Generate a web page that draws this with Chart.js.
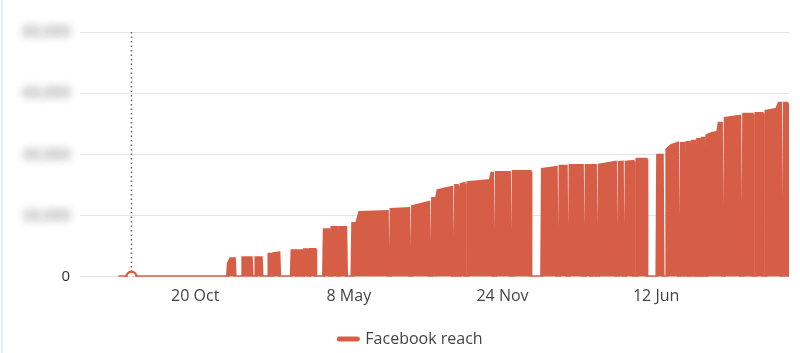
<!DOCTYPE html>
<html><head><meta charset="utf-8">
<script src="https://cdn.jsdelivr.net/npm/chart.js@4.4.1/dist/chart.umd.min.js"></script>
<style>
html,body{margin:0;padding:0;background:#fff;}
#wrap{position:relative;width:800px;height:353px;overflow:hidden;}
#edge{position:absolute;left:1px;top:0;width:2px;height:353px;background:#e3ecf6;}
</style></head><body>
<div id="wrap"><canvas id="c" width="800" height="353"></canvas><div id="edge"></div></div>
<script>
// x = days since 20 Oct 2020
const days = [-100,-83,42,43,46,51,52,61,62,66,67,68,69,73,74,78,79,86,87,95,96,98,99,101,102,109,110,125,126,131,132,134,135,139,140,141,142,146,147,149,150,156,157,167,168,174,175,177,178,184,185,187,188,196,197,204,205,210,214,250,251,254,255,278,279,282,283,304,305,308,309,314,316,334,335,338,339,341,342,345,346,350,351,354,355,384,386,387,388,391,392,409,410,413,414,436,437,451,452,470,471,474,475,483,484,487,488,504,505,508,509,514,515,517,518,521,522,525,526,547,548,551,552,556,557,560,561,570,571,574,575,587,588,601,602,608,609,613,614,620,628,629,632,633,636,637,639,640,643,644,646,647,650,651,653,654,656,657,659,660,662,663,665,666,673,680,682,685,686,689,690,709,710,713,714,725,726,729,730,738,739,742,743,757,760,762,763,766,767,770,771,772,773];
const reach = [0,0,0,4300,5900,5900,0,0,6200,6200,0,0,6200,6200,0,0,6200,6200,0,0,7400,7400,0,0,7600,7800,0,0,8500,8500,0,0,8500,8500,0,0,8800,8800,0,0,8900,8900,0,0,15400,15400,0,0,16100,16100,0,0,16100,16100,0,0,17400,17400,21000,21300,0,0,22000,22300,0,0,23000,24300,0,0,25600,25600,28200,29200,0,0,29800,29800,0,0,30200,30500,0,0,30800,31500,33800,33800,0,0,34100,34100,0,0,34400,34400,0,0,35100,35700,0,0,36100,36100,0,0,36400,36400,0,0,36400,36400,0,0,36400,36400,0,0,36500,37400,0,0,37400,37500,0,0,37500,37700,0,0,38400,38400,0,0,39700,39700,0,0,41600,43000,43600,0,0,43600,43600,0,0,43900,43900,0,0,44300,44300,0,0,44900,44900,0,0,45300,45300,0,0,46200,46900,47200,50200,50200,0,0,51800,52500,0,0,53100,53100,0,0,53400,53400,0,0,54100,54800,56700,56700,0,0,56700,56700,0,0,56700];
const tickDays = [0, 200, 400, 600];
const tickLabels = ['20 Oct', '8 May', '24 Nov', '12 Jun'];
const yTicks = [0, 20000, 40000, 60000, 80000];
const seriesName = 'Facebook reach';
const highlightDay = -83;

const COLOR = '#d75e46';
const FONT = "'Open Sans', 'Noto Sans', sans-serif";

// y tick labels appear blurred in the source: draw them as a soft shadow only
const blurLabels = {
  id: 'blurLabels',
  beforeDraw(chart) {
    const s = chart.scales.y;
    if (!s._blurWrapped) {
      const orig = s.drawLabels;
      s._computeLabelArea = function () { return undefined; };
      s.drawLabels = function (area) {
        const ctx = this.ctx;
        ctx.save();
        ctx.translate(-3000, 0);
        ctx.shadowColor = 'rgba(150,150,150,0.95)';
        ctx.shadowBlur = 9;
        ctx.shadowOffsetX = 3000;
        ctx.shadowOffsetY = 0;
        orig.call(this, area);
        ctx.restore();
      };
      s._blurWrapped = true;
    }
  },
  afterDraw(chart) {
    const s = chart.scales.y, ctx = chart.ctx;
    ctx.save();
    ctx.font = '15px ' + FONT;
    ctx.fillStyle = '#333';
    ctx.textAlign = 'right';
    ctx.textBaseline = 'middle';
    ctx.fillText(String(yTicks[0]), chart.chartArea.left - 10, s.getPixelForValue(yTicks[0]));
    ctx.restore();
  }
};

const legendShift = {
  id: 'legendShift',
  afterLayout(chart) {
    if (chart.legend) { chart.legend.top += 4; chart.legend.bottom += 4; }
  }
};

const hoverLine = {
  id: 'hoverLine',
  beforeDatasetsDraw(chart) {
    const ctx = chart.ctx;
    const x = chart.scales.x.getPixelForValue(highlightDay);
    const y0 = chart.scales.y.getPixelForValue(0);
    ctx.save();
    ctx.strokeStyle = '#666';
    ctx.lineWidth = 1.5;
    ctx.setLineDash([1.5, 3]);
    ctx.beginPath();
    ctx.moveTo(x, chart.chartArea.top);
    ctx.lineTo(x, y0 - 5);
    ctx.stroke();
    ctx.restore();
  }
};

new Chart(document.getElementById('c'), {
  type: 'line',
  data: {
    datasets: [{
      label: seriesName,
      data: days.map((d, i) => ({x: d, y: reach[i]})),
      borderColor: COLOR,
      backgroundColor: COLOR,
      fill: 'origin',
      borderWidth: 3,
      tension: 0,
      pointRadius: c => (c.raw && c.raw.x === highlightDay) ? 5 : 0,
      pointHoverRadius: 0,
      pointBackgroundColor: '#fff',
      pointBorderColor: COLOR,
      pointBorderWidth: 2.5
    }]
  },
  options: {
    responsive: false,
    animation: false,
    events: [],
    layout: {padding: {top: 32, right: 11, left: 33, bottom: 0}},
    plugins: {
      legend: {
        position: 'bottom',
        labels: {
          usePointStyle: true,
          pointStyleWidth: 18,
          color: '#444',
          font: {size: 16, family: FONT},
          padding: 11,
          generateLabels: () => [{
            text: seriesName, fillStyle: COLOR, strokeStyle: COLOR, lineWidth: 5,
            lineCap: 'round', pointStyle: 'line', hidden: false, datasetIndex: 0, fontColor: '#444'
          }]
        }
      },
      tooltip: {enabled: false}
    },
    scales: {
      x: {
        type: 'linear', min: -150, max: 773,
        grid: {display: false, drawTicks: false},
        border: {display: false},
        afterBuildTicks: s => { s.ticks = tickDays.map(v => ({value: v})); },
        ticks: {
          callback: v => { const i = tickDays.indexOf(v); return i >= 0 ? tickLabels[i] : ''; },
          color: '#444', font: {size: 16, family: FONT}, padding: 10, maxRotation: 0, autoSkip: false
        }
      },
      y: {
        min: 0, max: 80000,
        afterBuildTicks: s => { s.ticks = yTicks.map(v => ({value: v})); },
        afterFit: s => { s.width = 47; },
        grid: {color: '#e4e4e4', drawTicks: false},
        border: {display: false},
        ticks: {
          padding: 10,
          callback: v => Number(v).toLocaleString('en-US'),
          color: c => (c.tick && c.tick.value === 0) ? 'rgba(0,0,0,0)' : '#6a6a6a',
          font: {size: 15, weight: 'bold', family: FONT}
        }
      }
    }
  },
  plugins: [blurLabels, legendShift, hoverLine]
});
</script>
</body></html>
